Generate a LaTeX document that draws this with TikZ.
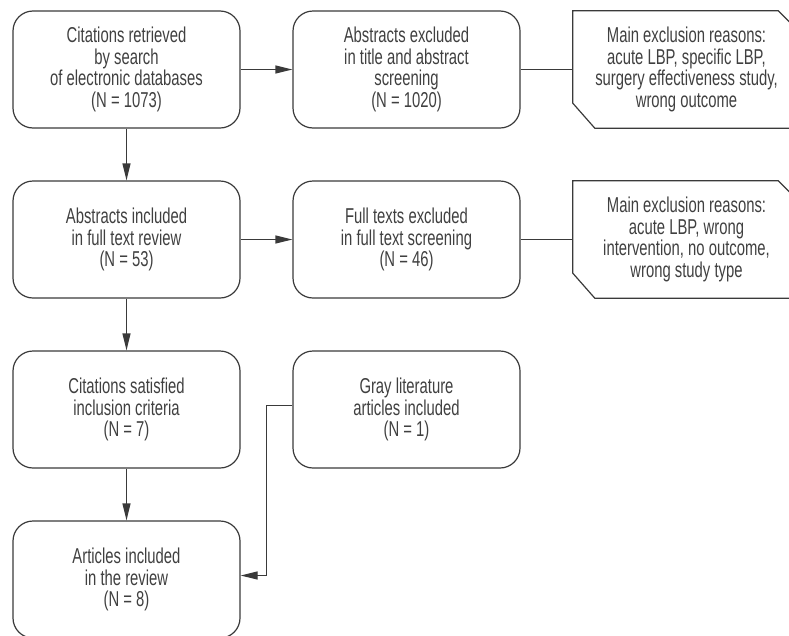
\documentclass[tikz,border=0pt]{standalone}
\usepackage{fontspec}
\setmainfont{Liberation Sans}[FakeStretch=0.69]
\usetikzlibrary{arrows.meta,calc}
\definecolor{linec}{HTML}{3A3A3A}
\definecolor{textc}{HTML}{404040}
\begin{document}
\begin{tikzpicture}[x=1pt,y=-1pt,
  box/.style={draw=linec, line width=1.2pt, rounded corners=20pt, minimum width=227pt, minimum height=117pt, inner sep=0pt, align=center, text=textc, font=\fontsize{21.5}{21.8}\selectfont},
  notebox/.style={minimum width=227pt, minimum height=117pt, inner sep=0pt, align=center, text=textc, font=\fontsize{21.5}{21.8}\selectfont},
  conn/.style={draw=linec, line width=1.2pt},
  arr/.style={conn, -{Triangle[length=17pt,width=8pt]}}]
\useasboundingbox (0,0) rectangle (789,635);
\node[box] (b1) at (126.5,69.5) {Citations retrieved\\by search\\of electronic databases\\(N = 1073)};
\node[box] (e1) at (406.5,69.5) {Abstracts excluded\\in title and abstract\\screening\\(N = 1020)};
\node[notebox] (n1) at (686.5,69.5) {Main exclusion reasons:\\acute LBP, specific LBP,\\surgery effectiveness study,\\wrong outcome};
\node[box] (b2) at (126.5,239.5) {Abstracts included\\in full text review\\(N = 53)};
\node[box] (e2) at (406.5,239.5) {Full texts excluded\\in full text screening\\(N = 46)};
\node[notebox] (n2) at (686.5,239.5) {Main exclusion reasons:\\acute LBP, wrong\\intervention, no outcome,\\wrong study type};
\node[box] (b3) at (126.5,409.5) {Citations satisfied\\inclusion criteria\\(N = 7)};
\node[box] (g) at (406.5,409.5) {Gray literature\\articles included\\(N = 1)};
\node[box] (b4) at (126.5,579.5) {Articles included\\in the review\\(N = 8)};
% note outlines
\foreach \n in {n1,n2}{
  \draw[conn] (\n.north west) -- ($(\n.north east)+(-22,0)$) -- ($(\n.north east)+(0,22)$)
    -- (\n.south east) -- ($(\n.south west)+(22,0)$) -- ($(\n.south west)+(0,-25)$) -- cycle;
}
\draw[arr] (b1) -- (e1);
\draw[conn] (e1) -- (n1.west);
\draw[arr] (b2) -- (e2);
\draw[conn] (e2) -- (n2.west);
\draw[arr] (b1) -- (b2);
\draw[arr] (b2) -- (b3);
\draw[arr] (b3) -- (b4);
\draw[arr] ([yshift=4pt]g.west) -- ++(-26,0) |- ([yshift=4pt]b4.east);
\end{tikzpicture}
\end{document}
